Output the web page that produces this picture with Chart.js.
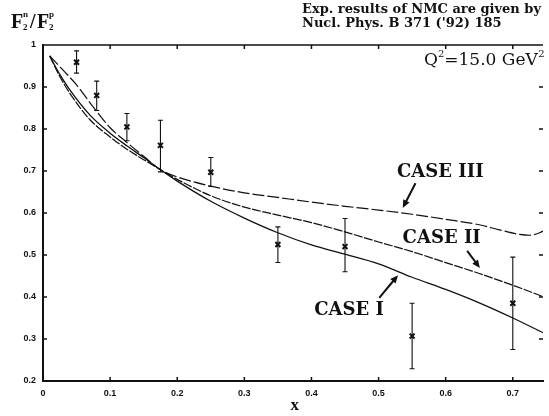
<!DOCTYPE html>
<html>
<head>
<meta charset="utf-8">
<script src="https://cdn.jsdelivr.net/npm/chart.js@4.4.0/dist/chart.umd.min.js"></script>
<style>
  html, body { margin:0; padding:0; background:#fff; overflow:hidden; }
  #wrap { position:relative; width:549px; height:416px; }
</style>
</head>
<body>
<div id="wrap"><canvas id="chart"></canvas></div>
<script>
/* ── data ── */
const xTicks = [0, 0.1, 0.2, 0.3, 0.4, 0.5, 0.6, 0.7];
const yTicks = [0.2, 0.3, 0.4, 0.5, 0.6, 0.7, 0.8, 0.9, 1];

// NMC points with error bars
const nmcX    = [0.05, 0.08, 0.125, 0.175, 0.25, 0.35, 0.45, 0.55, 0.7];
const nmcY    = [0.959, 0.880, 0.805, 0.761, 0.697, 0.525, 0.520, 0.307, 0.385];
const nmcLow  = [0.933, 0.844, 0.772, 0.698, 0.663, 0.482, 0.460, 0.229, 0.275];
const nmcHigh = [0.986, 0.914, 0.837, 0.821, 0.732, 0.567, 0.587, 0.385, 0.495];

// model curves
const case1X = [0.01, 0.025, 0.04, 0.07, 0.1, 0.125, 0.15, 0.175, 0.2, 0.25, 0.3, 0.35, 0.4, 0.45, 0.5, 0.55, 0.6, 0.65, 0.7, 0.745];
const case1Y = [0.974, 0.930, 0.893, 0.833, 0.790, 0.760, 0.732, 0.703, 0.676, 0.628, 0.588, 0.553, 0.524, 0.502, 0.479, 0.447, 0.418, 0.386, 0.350, 0.315];
const case2X = [0.01, 0.025, 0.04, 0.07, 0.1, 0.125, 0.15, 0.175, 0.2, 0.25, 0.3, 0.35, 0.4, 0.45, 0.5, 0.55, 0.6, 0.65, 0.7, 0.745];
const case2Y = [0.974, 0.925, 0.885, 0.822, 0.781, 0.752, 0.727, 0.703, 0.680, 0.641, 0.614, 0.595, 0.577, 0.555, 0.531, 0.508, 0.482, 0.456, 0.428, 0.401];
const case3X = [0.01, 0.03, 0.05, 0.075, 0.1, 0.125, 0.15, 0.175, 0.2, 0.25, 0.3, 0.35, 0.4, 0.45, 0.5, 0.55, 0.6, 0.65, 0.68, 0.71, 0.725, 0.74, 0.745];
const case3Y = [0.974, 0.940, 0.905, 0.852, 0.803, 0.768, 0.735, 0.703, 0.686, 0.664, 0.648, 0.637, 0.626, 0.616, 0.607, 0.597, 0.585, 0.572, 0.560, 0.549, 0.547, 0.553, 0.557];

// curve labels: text anchor, arrow tail, arrow tip (data units)
const caseLabels = [
  { text:'CASE III', at:[0.592, 0.698], tail:[0.555, 0.671], tip:[0.536, 0.612] },
  { text:'CASE II',  at:[0.594, 0.540], tail:[0.632, 0.510], tip:[0.651, 0.469] },
  { text:'CASE I',   at:[0.456, 0.369], tail:[0.501, 0.398], tip:[0.529, 0.452] },
];

const toPts = (xs, ys) => xs.map((x, i) => ({ x, y: ys[i] }));

const curve = (label, xs, ys, dash, width) => ({
  label, data: toPts(xs, ys),
  borderColor:'#111', borderWidth:width, borderDash:dash,
  pointRadius:0, fill:false, cubicInterpolationMode:'monotone',
});

/* ── axes frame, inner ticks, error bars, annotations ── */
const decor = {
  id:'decor',
  afterDatasetsDraw(chart) {
    const { ctx, chartArea:a, scales:{ x, y } } = chart;
    ctx.save();
    ctx.strokeStyle = '#111';

    // top frame line
    ctx.lineWidth = 1.6;
    ctx.beginPath(); ctx.moveTo(a.left, a.top); ctx.lineTo(a.right, a.top); ctx.stroke();

    // inward ticks
    ctx.lineWidth = 1.5;
    ctx.beginPath();
    xTicks.slice(1).forEach(v => {
      const px = x.getPixelForValue(v);
      ctx.moveTo(px, a.bottom); ctx.lineTo(px, a.bottom - 4);
      ctx.moveTo(px, a.top); ctx.lineTo(px, a.top + 4);
    });
    yTicks.slice(1, -1).forEach(v => {
      const py = y.getPixelForValue(v);
      ctx.moveTo(a.left, py); ctx.lineTo(a.left + 4, py);
      ctx.moveTo(a.right, py); ctx.lineTo(a.right - 4, py);
    });
    ctx.stroke();

    // error bars
    ctx.lineWidth = 1.1;
    ctx.beginPath();
    nmcX.forEach((v, i) => {
      const px = x.getPixelForValue(v);
      const lo = y.getPixelForValue(nmcLow[i]), hi = y.getPixelForValue(nmcHigh[i]);
      ctx.moveTo(px, lo); ctx.lineTo(px, hi);
      ctx.moveTo(px - 2.5, lo); ctx.lineTo(px + 2.5, lo);
      ctx.moveTo(px - 2.5, hi); ctx.lineTo(px + 2.5, hi);
    });
    ctx.stroke();

    // curve labels + arrows
    ctx.fillStyle = '#111';
    ctx.font = 'bold 18px "DejaVu Serif"';
    ctx.textAlign = 'center'; ctx.textBaseline = 'middle';
    caseLabels.forEach(c => {
      ctx.fillText(c.text, x.getPixelForValue(c.at[0]), y.getPixelForValue(c.at[1]));
      const tx = x.getPixelForValue(c.tail[0]), ty = y.getPixelForValue(c.tail[1]);
      const hx = x.getPixelForValue(c.tip[0]),  hy = y.getPixelForValue(c.tip[1]);
      const ang = Math.atan2(hy - ty, hx - tx);
      ctx.lineWidth = 2;
      ctx.beginPath(); ctx.moveTo(tx, ty);
      ctx.lineTo(hx - 5 * Math.cos(ang), hy - 5 * Math.sin(ang)); ctx.stroke();
      ctx.beginPath();
      ctx.moveTo(hx, hy);
      ctx.lineTo(hx - 8 * Math.cos(ang) + 3.5 * Math.sin(ang), hy - 8 * Math.sin(ang) - 3.5 * Math.cos(ang));
      ctx.lineTo(hx - 8 * Math.cos(ang) - 3.5 * Math.sin(ang), hy - 8 * Math.sin(ang) + 3.5 * Math.cos(ang));
      ctx.closePath(); ctx.fill();
    });

    // Q^2 label
    ctx.textAlign = 'left'; ctx.textBaseline = 'alphabetic';
    let qx = 424;
    ctx.font = '17px "DejaVu Serif"';
    ctx.fillText('Q', qx, 65); qx += ctx.measureText('Q').width;
    ctx.font = '10px "DejaVu Serif"';
    ctx.fillText('2', qx, 57); qx += ctx.measureText('2').width;
    ctx.font = '17px "DejaVu Serif"';
    ctx.fillText('=15.0 GeV', qx, 65); qx += ctx.measureText('=15.0 GeV').width;
    ctx.font = '10px "DejaVu Serif"';
    ctx.fillText('2', qx + 0.5, 57);

    // y title F2n/F2p
    ctx.font = 'bold 20px "Liberation Serif"';
    ctx.fillText('F', 11, 28);
    ctx.fillText('/', 30, 28);
    ctx.fillText('F', 37, 28);
    ctx.font = 'bold 9px "Liberation Serif"';
    ctx.fillText('n', 23, 17); ctx.fillText('2', 23, 30);
    ctx.fillText('p', 49, 17); ctx.fillText('2', 49, 30);

    // reference note
    ctx.font = 'bold 13px "DejaVu Serif"';
    ctx.fillText('Exp. results of NMC are given by', 302, 13);
    ctx.fillText("Nucl. Phys. B 371 ('92) 185", 302, 27);

    // x title
    ctx.font = 'bold 17px "Liberation Serif"';
    ctx.textAlign = 'center';
    ctx.fillText('x', x.getPixelForValue(0.375), 410);
    ctx.restore();
  }
};

const tickFont = { family:'"Liberation Sans"', size:9, weight:'bold' };
const fmt = v => (v === 0 || v === 1) ? String(v) : v.toFixed(1);

new Chart(document.getElementById('chart').getContext('2d'), {
  type:'line',
  data:{
    datasets:[
      curve('CASE I',   case1X, case1Y, [], 1.3),
      curve('CASE II',  case2X, case2Y, [9, 1.5], 1.2),
      curve('CASE III', case3X, case3Y, [12, 3], 1.2),
      { label:'NMC', data:toPts(nmcX, nmcY), showLine:false,
        pointStyle:'crossRot', pointRadius:3.5, borderWidth:2,
        borderColor:'#111', backgroundColor:'#111' },
    ],
  },
  options:{
    responsive:true, maintainAspectRatio:false, animation:false,
    layout:{ padding:{ top:45, right:0, left:0, bottom:0 } },
    plugins:{ legend:{ display:false }, tooltip:{ enabled:false } },
    scales:{
      x:{
        type:'linear', min:0, max:0.745,
        afterBuildTicks: s => { s.ticks = xTicks.map(v => ({ value:v })); },
        afterFit: s => { s.height = 35; },
        grid:{ display:false, drawTicks:false }, border:{ color:'#111', width:2 },
        ticks:{ color:'#111', font:tickFont, padding:7, maxRotation:0, callback:fmt },
      },
      y:{
        type:'linear', min:0.2, max:1,
        afterBuildTicks: s => { s.ticks = yTicks.map(v => ({ value:v })); },
        afterFit: s => { s.width = 43; },
        grid:{ display:false, drawTicks:false }, border:{ color:'#111', width:2 },
        ticks:{ color:'#111', font:tickFont, padding:7, callback:fmt },
      },
    },
  },
  plugins:[decor],
});
</script>
</body>
</html>
